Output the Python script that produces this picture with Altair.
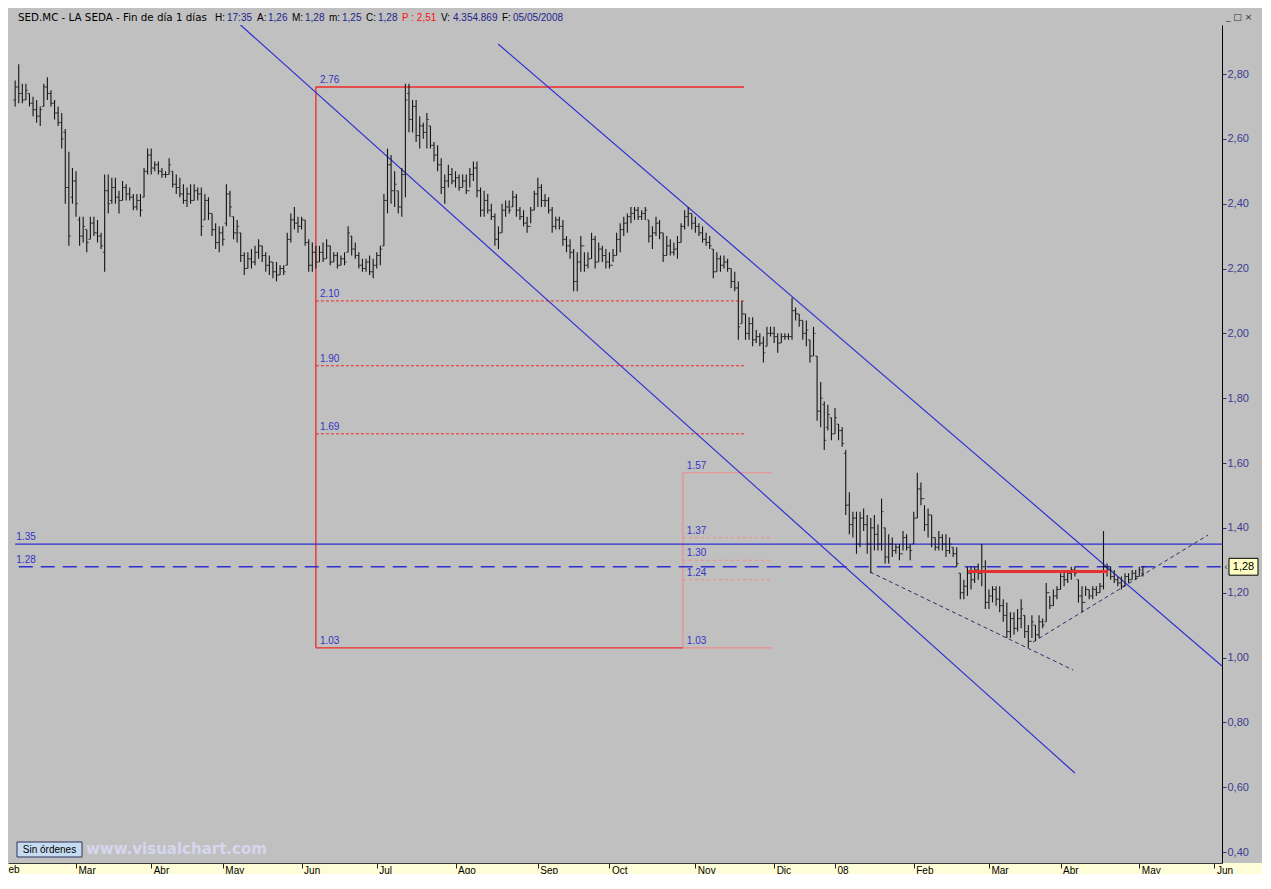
import altair as alt
import pandas as pd

# ---------------- data ----------------
FIRST_DAY = 2  # trading-day counter of the first bar
HIGH = [
    2.78, 2.83, 2.77, 2.77, 2.74, 2.73, 2.72, 2.70, 2.77, 2.79,
    2.75, 2.72, 2.70, 2.68, 2.63, 2.56, 2.51, 2.50, 2.36, 2.36,
    2.32, 2.36, 2.36, 2.35, 2.31, 2.49, 2.49, 2.48, 2.48, 2.44,
    2.47, 2.46, 2.45, 2.43, 2.43, 2.43, 2.51, 2.57, 2.57, 2.53,
    2.53, 2.51, 2.50, 2.54, 2.50, 2.49, 2.48, 2.46, 2.45, 2.46,
    2.46, 2.45, 2.45, 2.43, 2.42, 2.37, 2.34, 2.33, 2.33, 2.46,
    2.44, 2.36, 2.35, 2.31, 2.25, 2.25, 2.26, 2.27, 2.29, 2.27,
    2.25, 2.24, 2.22, 2.22, 2.21, 2.21, 2.31, 2.37, 2.39, 2.36,
    2.36, 2.35, 2.29, 2.28, 2.27, 2.27, 2.28, 2.29, 2.27, 2.25,
    2.25, 2.24, 2.25, 2.33, 2.30, 2.28, 2.25, 2.23, 2.23, 2.24,
    2.23, 2.25, 2.27, 2.43, 2.57, 2.55, 2.50, 2.44, 2.51, 2.77,
    2.77, 2.72, 2.72, 2.67, 2.65, 2.68, 2.64, 2.59, 2.58, 2.54,
    2.49, 2.52, 2.51, 2.50, 2.49, 2.49, 2.49, 2.51, 2.53, 2.53,
    2.45, 2.44, 2.43, 2.40, 2.37, 2.33, 2.40, 2.41, 2.41, 2.44,
    2.43, 2.39, 2.38, 2.36, 2.39, 2.44, 2.48, 2.46, 2.43, 2.42,
    2.39, 2.36, 2.36, 2.35, 2.30, 2.29, 2.26, 2.25, 2.30, 2.25,
    2.25, 2.31, 2.30, 2.28, 2.27, 2.26, 2.25, 2.26, 2.31, 2.34,
    2.36, 2.37, 2.39, 2.39, 2.39, 2.38, 2.39, 2.35, 2.33, 2.36,
    2.35, 2.31, 2.30, 2.29, 2.28, 2.30, 2.34, 2.38, 2.39, 2.37,
    2.36, 2.34, 2.33, 2.31, 2.30, 2.26, 2.25, 2.24, 2.24, 2.23,
    2.20, 2.19, 2.16, 2.10, 2.06, 2.05, 2.05, 2.01, 2.00, 1.99,
    2.02, 2.02, 2.02, 2.00, 2.00, 2.00, 2.00, 2.11, 2.08, 2.06,
    2.04, 2.04, 1.98, 2.02, 1.93, 1.85, 1.79, 1.78, 1.74, 1.77,
    1.72, 1.71, 1.64, 1.51, 1.45, 1.45, 1.45, 1.46, 1.44, 1.43,
    1.44, 1.41, 1.49, 1.40, 1.38, 1.37, 1.35, 1.35, 1.39, 1.38,
    1.35, 1.45, 1.57, 1.54, 1.47, 1.46, 1.44, 1.37, 1.39, 1.38,
    1.38, 1.37, 1.34, 1.34, 1.26, 1.24, 1.28, 1.28, 1.28, 1.29,
    1.35, 1.30, 1.21, 1.22, 1.22, 1.22, 1.18, 1.17, 1.14, 1.14,
    1.15, 1.18, 1.13, 1.10, 1.13, 1.10, 1.13, 1.12, 1.23, 1.19,
    1.21, 1.22, 1.26, 1.27, 1.27, 1.28, 1.28, 1.24, 1.22, 1.22,
    1.21, 1.22, 1.22, 1.23, 1.39, 1.29, 1.28, 1.27, 1.25, 1.25,
    1.26, 1.26, 1.27, 1.27, 1.28, 1.28,
]
LOW = [
    2.70, 2.71, 2.71, 2.72, 2.70, 2.67, 2.65, 2.64, 2.70, 2.72,
    2.70, 2.66, 2.64, 2.57, 2.40, 2.27, 2.40, 2.36, 2.27, 2.28,
    2.25, 2.29, 2.30, 2.28, 2.26, 2.19, 2.37, 2.40, 2.40, 2.37,
    2.41, 2.41, 2.41, 2.38, 2.38, 2.36, 2.42, 2.49, 2.49, 2.50,
    2.49, 2.48, 2.48, 2.49, 2.45, 2.43, 2.42, 2.40, 2.39, 2.40,
    2.41, 2.41, 2.30, 2.35, 2.35, 2.30, 2.26, 2.25, 2.27, 2.33,
    2.36, 2.29, 2.28, 2.22, 2.18, 2.20, 2.20, 2.21, 2.23, 2.22,
    2.19, 2.18, 2.17, 2.16, 2.18, 2.18, 2.21, 2.28, 2.32, 2.31,
    2.32, 2.27, 2.19, 2.19, 2.20, 2.22, 2.22, 2.23, 2.21, 2.22,
    2.20, 2.21, 2.21, 2.25, 2.24, 2.23, 2.20, 2.19, 2.19, 2.18,
    2.17, 2.20, 2.21, 2.27, 2.37, 2.40, 2.39, 2.37, 2.36, 2.42,
    2.62, 2.62, 2.59, 2.57, 2.60, 2.57, 2.57, 2.53, 2.50, 2.43,
    2.40, 2.45, 2.46, 2.45, 2.44, 2.45, 2.43, 2.45, 2.47, 2.42,
    2.36, 2.36, 2.37, 2.35, 2.27, 2.26, 2.31, 2.36, 2.37, 2.39,
    2.36, 2.35, 2.33, 2.31, 2.34, 2.38, 2.39, 2.39, 2.39, 2.37,
    2.31, 2.32, 2.32, 2.27, 2.25, 2.23, 2.13, 2.13, 2.19, 2.19,
    2.20, 2.23, 2.20, 2.22, 2.22, 2.20, 2.20, 2.22, 2.24, 2.25,
    2.30, 2.31, 2.34, 2.35, 2.35, 2.35, 2.35, 2.28, 2.26, 2.30,
    2.29, 2.22, 2.24, 2.24, 2.24, 2.23, 2.28, 2.32, 2.33, 2.32,
    2.31, 2.30, 2.28, 2.27, 2.26, 2.17, 2.19, 2.19, 2.20, 2.19,
    2.14, 2.13, 1.98, 2.03, 1.98, 1.98, 1.96, 1.97, 1.96, 1.91,
    1.96, 1.99, 1.97, 1.94, 1.97, 1.98, 1.98, 1.98, 2.04, 2.02,
    1.98, 1.96, 1.91, 1.93, 1.73, 1.71, 1.64, 1.70, 1.67, 1.69,
    1.67, 1.65, 1.44, 1.38, 1.37, 1.32, 1.34, 1.39, 1.32, 1.26,
    1.33, 1.33, 1.33, 1.29, 1.29, 1.31, 1.32, 1.30, 1.33, 1.33,
    1.30, 1.35, 1.43, 1.47, 1.39, 1.37, 1.34, 1.33, 1.33, 1.33,
    1.31, 1.32, 1.31, 1.28, 1.18, 1.18, 1.19, 1.21, 1.23, 1.24,
    1.22, 1.15, 1.15, 1.17, 1.16, 1.14, 1.11, 1.06, 1.06, 1.07,
    1.08, 1.09, 1.06, 1.03, 1.06, 1.05, 1.06, 1.09, 1.11, 1.15,
    1.16, 1.18, 1.21, 1.22, 1.23, 1.24, 1.25, 1.17, 1.14, 1.19,
    1.18, 1.18, 1.19, 1.20, 1.21, 1.25, 1.24, 1.23, 1.22, 1.21,
    1.22, 1.23, 1.24, 1.24, 1.25, 1.25,
]
OPEN = [
    2.72, 2.76, 2.74, 2.72, 2.74, 2.71, 2.69, 2.67, 2.70, 2.76,
    2.74, 2.71, 2.68, 2.65, 2.62, 2.45, 2.42, 2.47, 2.35, 2.30,
    2.32, 2.29, 2.34, 2.31, 2.30, 2.25, 2.44, 2.41, 2.45, 2.42,
    2.41, 2.45, 2.43, 2.42, 2.39, 2.41, 2.42, 2.50, 2.55, 2.51,
    2.52, 2.50, 2.49, 2.49, 2.50, 2.46, 2.45, 2.43, 2.41, 2.43,
    2.41, 2.44, 2.43, 2.35, 2.41, 2.37, 2.32, 2.28, 2.31, 2.34,
    2.43, 2.36, 2.31, 2.31, 2.24, 2.20, 2.23, 2.22, 2.25, 2.27,
    2.24, 2.21, 2.22, 2.19, 2.18, 2.20, 2.21, 2.29, 2.35, 2.34,
    2.33, 2.35, 2.28, 2.21, 2.25, 2.22, 2.25, 2.23, 2.27, 2.22,
    2.24, 2.21, 2.23, 2.25, 2.30, 2.26, 2.24, 2.21, 2.20, 2.22,
    2.19, 2.21, 2.24, 2.27, 2.41, 2.52, 2.44, 2.44, 2.39, 2.49,
    2.74, 2.66, 2.70, 2.61, 2.64, 2.62, 2.64, 2.58, 2.55, 2.52,
    2.45, 2.47, 2.49, 2.47, 2.48, 2.45, 2.47, 2.44, 2.49, 2.51,
    2.44, 2.38, 2.41, 2.38, 2.36, 2.29, 2.31, 2.38, 2.39, 2.39,
    2.42, 2.38, 2.36, 2.34, 2.33, 2.38, 2.43, 2.45, 2.41, 2.41,
    2.38, 2.33, 2.35, 2.33, 2.29, 2.27, 2.25, 2.16, 2.22, 2.27,
    2.21, 2.23, 2.29, 2.22, 2.26, 2.24, 2.22, 2.21, 2.24, 2.29,
    2.32, 2.34, 2.36, 2.37, 2.38, 2.36, 2.37, 2.35, 2.30, 2.31,
    2.34, 2.31, 2.24, 2.27, 2.25, 2.26, 2.28, 2.33, 2.36, 2.37,
    2.34, 2.33, 2.31, 2.29, 2.28, 2.26, 2.19, 2.23, 2.21, 2.22,
    2.20, 2.16, 2.14, 2.03, 2.06, 2.00, 2.03, 1.98, 1.99, 1.97,
    1.96, 2.00, 2.00, 1.99, 1.97, 1.99, 1.99, 1.99, 2.07, 2.06,
    2.04, 2.00, 1.98, 1.93, 1.93, 1.76, 1.78, 1.71, 1.74, 1.69,
    1.72, 1.70, 1.63, 1.47, 1.41, 1.43, 1.35, 1.43, 1.41, 1.35,
    1.40, 1.38, 1.35, 1.40, 1.31, 1.35, 1.33, 1.34, 1.32, 1.37,
    1.34, 1.35, 1.43, 1.52, 1.49, 1.41, 1.44, 1.37, 1.34, 1.37,
    1.35, 1.33, 1.34, 1.32, 1.26, 1.20, 1.22, 1.26, 1.24, 1.27,
    1.26, 1.28, 1.17, 1.19, 1.21, 1.18, 1.16, 1.13, 1.08, 1.12,
    1.09, 1.12, 1.13, 1.08, 1.05, 1.10, 1.07, 1.11, 1.11, 1.20,
    1.16, 1.19, 1.21, 1.25, 1.24, 1.26, 1.27, 1.24, 1.19, 1.17,
    1.21, 1.19, 1.21, 1.20, 1.22, 1.28, 1.27, 1.25, 1.24, 1.23,
    1.22, 1.25, 1.24, 1.26, 1.25, 1.26,
]
CLOSE = [
    2.76, 2.74, 2.72, 2.75, 2.71, 2.69, 2.67, 2.69, 2.76, 2.74,
    2.71, 2.68, 2.65, 2.60, 2.45, 2.30, 2.47, 2.40, 2.30, 2.33,
    2.28, 2.34, 2.31, 2.30, 2.27, 2.44, 2.40, 2.45, 2.42, 2.41,
    2.45, 2.43, 2.42, 2.39, 2.41, 2.38, 2.50, 2.55, 2.51, 2.52,
    2.50, 2.49, 2.49, 2.52, 2.46, 2.45, 2.43, 2.41, 2.43, 2.41,
    2.44, 2.43, 2.33, 2.41, 2.37, 2.32, 2.28, 2.31, 2.29, 2.43,
    2.39, 2.31, 2.33, 2.24, 2.20, 2.23, 2.22, 2.25, 2.27, 2.24,
    2.21, 2.22, 2.19, 2.18, 2.20, 2.19, 2.29, 2.35, 2.34, 2.33,
    2.35, 2.28, 2.21, 2.25, 2.22, 2.25, 2.23, 2.27, 2.22, 2.24,
    2.21, 2.23, 2.22, 2.31, 2.26, 2.24, 2.21, 2.20, 2.22, 2.19,
    2.21, 2.24, 2.26, 2.41, 2.52, 2.44, 2.46, 2.39, 2.49, 2.72,
    2.66, 2.70, 2.61, 2.64, 2.62, 2.66, 2.58, 2.55, 2.52, 2.45,
    2.47, 2.49, 2.47, 2.48, 2.45, 2.47, 2.44, 2.49, 2.51, 2.44,
    2.38, 2.41, 2.38, 2.36, 2.29, 2.31, 2.38, 2.39, 2.38, 2.42,
    2.38, 2.36, 2.34, 2.33, 2.38, 2.43, 2.45, 2.41, 2.41, 2.38,
    2.33, 2.35, 2.33, 2.29, 2.27, 2.25, 2.16, 2.22, 2.27, 2.21,
    2.23, 2.29, 2.22, 2.26, 2.24, 2.22, 2.21, 2.24, 2.29, 2.32,
    2.34, 2.36, 2.37, 2.38, 2.36, 2.37, 2.38, 2.30, 2.31, 2.34,
    2.31, 2.24, 2.27, 2.25, 2.26, 2.28, 2.33, 2.36, 2.37, 2.34,
    2.33, 2.31, 2.29, 2.28, 2.27, 2.19, 2.23, 2.21, 2.22, 2.20,
    2.16, 2.14, 2.02, 2.06, 2.00, 2.03, 1.98, 1.99, 1.97, 1.94,
    2.00, 2.00, 1.99, 1.97, 1.99, 1.99, 1.99, 2.07, 2.06, 2.04,
    2.00, 2.01, 1.93, 2.00, 1.76, 1.80, 1.67, 1.75, 1.69, 1.74,
    1.70, 1.66, 1.47, 1.41, 1.43, 1.35, 1.43, 1.41, 1.35, 1.40,
    1.38, 1.35, 1.45, 1.31, 1.35, 1.33, 1.34, 1.32, 1.37, 1.34,
    1.33, 1.43, 1.52, 1.49, 1.41, 1.44, 1.37, 1.34, 1.37, 1.35,
    1.33, 1.35, 1.32, 1.29, 1.20, 1.22, 1.26, 1.24, 1.27, 1.26,
    1.28, 1.17, 1.19, 1.21, 1.18, 1.16, 1.13, 1.08, 1.12, 1.09,
    1.12, 1.15, 1.08, 1.05, 1.11, 1.07, 1.11, 1.10, 1.20, 1.16,
    1.19, 1.21, 1.25, 1.24, 1.26, 1.27, 1.26, 1.19, 1.17, 1.21,
    1.19, 1.21, 1.20, 1.22, 1.28, 1.27, 1.25, 1.24, 1.23, 1.22,
    1.25, 1.24, 1.26, 1.25, 1.27, 1.28,
]

MONTH_LABELS = ["Mar", "Abr", "May", "Jun", "Jul", "Ago", "Sep", "Oct", "Nov",
                "Dic", "08", "Feb", "Mar", "Abr", "May", "Jun"]
MONTH_DAYS = [19, 40, 60, 82, 103, 125, 148, 168, 192, 214, 231, 253, 274, 294, 316, 337]
PRICE_TICKS = [0.4, 0.6, 0.8, 1.0, 1.2, 1.4, 1.6, 1.8, 2.0, 2.2, 2.4, 2.6, 2.8]

LEVEL_SOLID = 1.35
LEVEL_DASHED = 1.28
LEVEL_START_DAY = 2
LOWER_CHANNEL = [(63.4, 2.9666), (298.0, 0.6437)]
UPPER_CHANNEL = [(136.9, 2.8925), (339.1, 0.9738)]
FIB1_LEVELS = [2.76, 2.10, 1.90, 1.69, 1.03]
FIB1_DAYS = [86.0, 205.6, 188.5]  # start, end, end of base line
FIB2_LEVELS = [1.57, 1.37, 1.30, 1.24, 1.03]
FIB2_DAYS = [188.5, 213.4]
TRI_DOWN = [(240.8, 1.2638), (297.5, 0.9615)]
TRI_UP = [(286.3, 1.0478), (335.2, 1.3779)]
RESIST_DAYS = [268.2, 307.3]
RESIST_PRICE = 1.265

X_DOMAIN = [0, 339.1]
Y_DOMAIN = [0.3661, 2.9512]

# ---------------- layout ----------------
W, H = 1214, 838
TOP = 17
BLUE = "#2f2fd2"
LBL_BLUE = "#3434c4"
RED = "#f02828"
SALMON = "#ee8c8c"
FONT = "Liberation Sans"

XS = alt.Scale(domain=X_DOMAIN, nice=False, zero=False)
YS = alt.Scale(domain=Y_DOMAIN, nice=False, zero=False)

label_expr = ("[" + ",".join("'%s'" % m for m in MONTH_LABELS) + "][indexof(["
              + ",".join(str(d) for d in MONTH_DAYS) + "], datum.value)]")

XAXIS = alt.Axis(orient="bottom", values=MONTH_DAYS, labelExpr=label_expr, title=None,
                 grid=False, domainColor="#3a3a3a", domainWidth=1, tickSize=5,
                 tickColor="#202020", tickWidth=1, labelAlign="left", labelBaseline="top",
                 labelPadding=-3, labelOffset=2, labelFont=FONT, labelFontSize=10,
                 labelColor="#000000", labelFlush=False, labelOverlap=False,
                 labelBound=False, zindex=2)
YAXIS = alt.Axis(orient="right", values=PRICE_TICKS,
                 labelExpr="replace(format(datum.value, '.2f'), '.', ',')", title=None,
                 grid=False, domainColor="#000000", domainWidth=1, tickSize=4,
                 tickColor="#30307a", labelColor="#3b3b8f", labelFont=FONT,
                 labelFontSize=11, labelPadding=1, labelFlush=False,
                 labelOverlap=False, zindex=2)

X = alt.X("x:Q", scale=XS, axis=XAXIS)
Y = alt.Y("y:Q", scale=YS, axis=YAXIS)

days = list(range(FIRST_DAY, FIRST_DAY + len(HIGH)))
bars_df = pd.DataFrame({"x": days, "y": LOW, "y2": HIGH})
open_df = pd.DataFrame({"x": days, "y": OPEN})
close_df = pd.DataFrame({"x": days, "y": CLOSE})


def segs(rows):
    return pd.DataFrame([{"x": a, "y": b, "x2": c, "y2": d} for a, b, c, d in rows])


def rule_layer(df, color, width, dash=None, opacity=1.0):
    kw = dict(color=color, strokeWidth=width, clip=True, opacity=opacity)
    if dash:
        kw["strokeDash"] = dash
    return alt.Chart(df).mark_rule(**kw).encode(x=X, y=Y, x2="x2:Q", y2="y2:Q")


f1s, f1e, f1b = FIB1_DAYS
f2s, f2e = FIB2_DAYS

fib1_solid = segs([(f1s, FIB1_LEVELS[-1], f1s, FIB1_LEVELS[0]),
                   (f1s, FIB1_LEVELS[0], f1e, FIB1_LEVELS[0]),
                   (f1s, FIB1_LEVELS[-1], f1b, FIB1_LEVELS[-1])])
fib1_dash = segs([(f1s, lv, f1e, lv) for lv in FIB1_LEVELS[1:-1]])
fib2_solid = segs([(f2s, FIB2_LEVELS[-1], f2s, FIB2_LEVELS[0]),
                   (f2s, FIB2_LEVELS[0], f2e, FIB2_LEVELS[0]),
                   (f2s, FIB2_LEVELS[-1], f2e, FIB2_LEVELS[-1])])
fib2_dash = segs([(f2s, lv, f2e, lv) for lv in FIB2_LEVELS[1:-1]])
channels = segs([(LOWER_CHANNEL[0][0], LOWER_CHANNEL[0][1], LOWER_CHANNEL[1][0], LOWER_CHANNEL[1][1]),
                 (UPPER_CHANNEL[0][0], UPPER_CHANNEL[0][1], UPPER_CHANNEL[1][0], UPPER_CHANNEL[1][1]),
                 (LEVEL_START_DAY, LEVEL_SOLID, X_DOMAIN[1], LEVEL_SOLID)])
dashed_level = segs([(LEVEL_START_DAY + 1, LEVEL_DASHED, X_DOMAIN[1], LEVEL_DASHED)])
triangle = segs([(TRI_DOWN[0][0], TRI_DOWN[0][1], TRI_DOWN[1][0], TRI_DOWN[1][1]),
                 (TRI_UP[0][0], TRI_UP[0][1], TRI_UP[1][0], TRI_UP[1][1])])
resist = segs([(RESIST_DAYS[0], RESIST_PRICE, RESIST_DAYS[1], RESIST_PRICE)])

labels_df = pd.DataFrame(
    [{"x": f1s, "y": lv, "t": "%.2f" % lv} for lv in FIB1_LEVELS]
    + [{"x": f2s, "y": lv, "t": "%.2f" % lv} for lv in FIB2_LEVELS]
    + [{"x": 1.2, "y": LEVEL_SOLID, "t": "%.2f" % LEVEL_SOLID},
       {"x": 1.2, "y": LEVEL_DASHED, "t": "%.2f" % LEVEL_DASHED}]
)

layers = []

# bottom yellow time band
one = pd.DataFrame({"k": [0]})
layers.append(alt.Chart(one).mark_rect(color="#fffcd8").encode(
    x=alt.value(0), x2=alt.value(W + 40), y=alt.value(H), y2=alt.value(H + 11)))

layers.append(rule_layer(fib1_dash, RED, 1, [3, 2]))
layers.append(rule_layer(fib2_dash, SALMON, 1, [3, 3]))
layers.append(rule_layer(fib2_solid, SALMON, 1.2))
layers.append(rule_layer(fib1_solid, RED, 1.3))
layers.append(rule_layer(channels, BLUE, 1.2))
layers.append(rule_layer(dashed_level, BLUE, 1.6, [14, 8]))
layers.append(rule_layer(triangle, "#2e2e6a", 1, [4, 3]))

# OHLC bars
layers.append(alt.Chart(bars_df).mark_rule(color="#141414", strokeWidth=1.1).encode(
    x=X, y=Y, y2="y2:Q"))
layers.append(alt.Chart(open_df).mark_tick(orient="horizontal", color="#141414", size=2,
                                           thickness=1, xOffset=-1).encode(x=X, y=Y))
layers.append(alt.Chart(close_df).mark_tick(orient="horizontal", color="#141414", size=2,
                                            thickness=1, xOffset=1).encode(x=X, y=Y))

layers.append(rule_layer(resist, "#e83030", 3))

# level labels
layers.append(alt.Chart(labels_df).mark_text(align="left", baseline="bottom", dx=4, dy=-2,
                                             font=FONT, fontSize=10, color=LBL_BLUE).encode(
    x=X, y=Y, text="t:N"))

# last price box on the right axis
box_df = pd.DataFrame({"y": [LEVEL_DASHED + 0.026], "y2": [LEVEL_DASHED - 0.026]})
layers.append(alt.Chart(box_df).mark_rect(fill="#ffffc4", stroke="#000000", strokeWidth=1).encode(
    x=alt.value(W + 7), x2=alt.value(W + 36), y=Y, y2="y2:Q"))
last_df = pd.DataFrame({"y": [LEVEL_DASHED], "t": [("%.2f" % CLOSE[-1]).replace(".", ",")]})
layers.append(alt.Chart(last_df).mark_text(align="center", baseline="middle", font=FONT,
                                           fontSize=11, color="#000000").encode(
    x=alt.value(W + 21.5), y=Y, text="t:N"))
layers.append(alt.Chart(last_df).mark_text(align="center", baseline="middle", font=FONT,
                                           fontSize=9, color="#303030", text="\u2039").encode(
    x=alt.value(W + 4), y=Y))


# header bar texts
def fmt(v):
    return ("%.2f" % v).replace(".", ",")


hdr = [
    ("SED.MC - LA SEDA - Fin de d\u00eda 1 d\u00edas", "#000000", 10, "DejaVu Sans", 10.3),
    ("H:", "#000000", 207, FONT, 10), ("17:35", "#22228a", 219, FONT, 10),
    ("A:", "#000000", 249, FONT, 10), (fmt(OPEN[-1]), "#22228a", 260, FONT, 10),
    ("M:", "#000000", 284, FONT, 10), (fmt(HIGH[-1]), "#22228a", 297, FONT, 10),
    ("m:", "#000000", 321, FONT, 10), (fmt(LOW[-1]), "#22228a", 334, FONT, 10),
    ("C:", "#000000", 358, FONT, 10), (fmt(CLOSE[-1]), "#22228a", 370, FONT, 10),
    ("P : 2,51", "#ff1010", 394, FONT, 10),
    ("V:", "#000000", 433, FONT, 10), ("4.354.869", "#22228a", 445, FONT, 10),
    ("F:", "#000000", 494, FONT, 10), ("05/05/2008", "#22228a", 505, FONT, 10),
]
for txt, col, px, fnt, fs in hdr:
    layers.append(alt.Chart(one).mark_text(align="left", baseline="alphabetic", font=fnt,
                                           fontSize=fs, color=col, text=txt).encode(
        x=alt.value(px), y=alt.value(-4)))
layers.append(alt.Chart(one).mark_text(align="left", baseline="alphabetic", font="DejaVu Sans",
                                       fontSize=9, color="#303030", text="_ \u25a1 \u00d7").encode(
    x=alt.value(W + 4), y=alt.value(-5)))

# bottom-left order box and brand
layers.append(alt.Chart(one).mark_rect(fill="#c6dcf2", stroke="#30305a", strokeWidth=1).encode(
    x=alt.value(9), x2=alt.value(74), y=alt.value(H - 21), y2=alt.value(H - 6)))
layers.append(alt.Chart(one).mark_text(align="center", baseline="middle", font=FONT, fontSize=10,
                                       color="#000000", text="Sin \u00f3rdenes").encode(
    x=alt.value(41.5), y=alt.value(H - 13.5)))
layers.append(alt.Chart(one).mark_text(align="left", baseline="middle", font="DejaVu Sans",
                                       fontSize=15, fontWeight="bold", color="#d6d6ee",
                                       text="www.visualchart.com").encode(
    x=alt.value(78), y=alt.value(H - 14)))
layers.append(alt.Chart(one).mark_text(align="left", baseline="top", font=FONT, fontSize=10,
                                       color="#000000", text="eb").encode(
    x=alt.value(0.5), y=alt.value(H + 2)))

chart = alt.layer(*layers).properties(
    width=W, height=H, background="#c0c0c0",
    padding={"left": 0, "top": TOP, "right": 40, "bottom": 11},
    autosize=alt.AutoSizeParams(type="none"),
).configure_view(fill="#c0c0c0", stroke="transparent")

chart.save("out.html", embed_options={"renderer": "svg", "actions": False})
